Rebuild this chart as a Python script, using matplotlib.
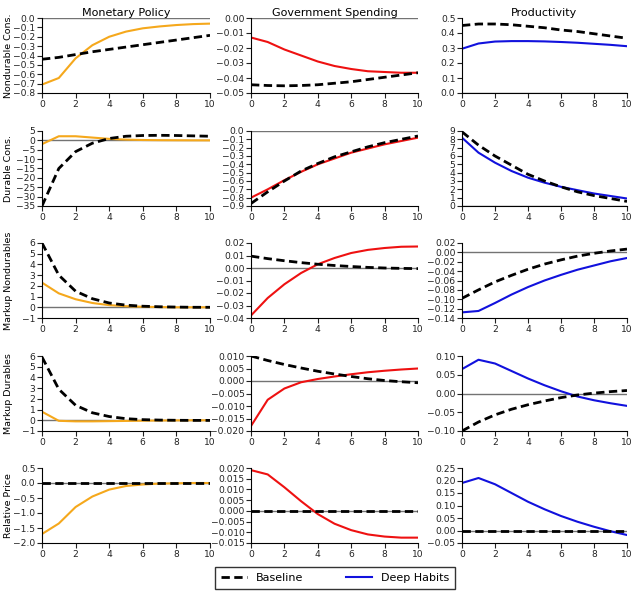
import numpy as np
import matplotlib.pyplot as plt

periods = np.arange(11)

shocks = ["Monetary Policy", "Government Spending", "Productivity"]
variables = ["Nondurable Cons.", "Durable Cons.", "Markup Nondurables", "Markup Durables", "Relative Price"]
shock_colors = ["#f5a81c", "#ee1111", "#1111dd"]

# Nondurable consumption
nd_mp_base = [-0.44, -0.42, -0.39, -0.36, -0.335, -0.31, -0.285, -0.26, -0.235, -0.21, -0.185]
nd_mp_dh = [-0.71, -0.64, -0.43, -0.29, -0.20, -0.145, -0.11, -0.09, -0.075, -0.065, -0.06]
nd_gs_base = [-0.0445, -0.045, -0.0452, -0.045, -0.0445, -0.0435, -0.0425, -0.041, -0.0395, -0.038, -0.0365]
nd_gs_dh = [-0.013, -0.016, -0.021, -0.025, -0.029, -0.032, -0.034, -0.0355, -0.036, -0.0365, -0.0365]
nd_pr_base = [0.45, 0.46, 0.46, 0.455, 0.445, 0.435, 0.42, 0.41, 0.395, 0.38, 0.365]
nd_pr_dh = [0.295, 0.33, 0.343, 0.346, 0.346, 0.344, 0.340, 0.335, 0.328, 0.321, 0.312]

# Durable consumption
d_mp_base = [-35, -15, -6, -1.5, 1.0, 2.2, 2.6, 2.7, 2.6, 2.4, 2.2]
d_mp_dh = [-2, 2.2, 2.2, 1.5, 0.8, 0.4, 0.2, 0.1, 0.05, 0.02, 0.0]
d_gs_base = [-0.87, -0.73, -0.60, -0.48, -0.39, -0.31, -0.25, -0.19, -0.14, -0.10, -0.06]
d_gs_dh = [-0.80, -0.70, -0.59, -0.49, -0.40, -0.33, -0.26, -0.21, -0.16, -0.12, -0.08]
d_pr_base = [8.9, 7.3, 6.0, 4.9, 3.8, 3.0, 2.3, 1.7, 1.25, 0.9, 0.55]
d_pr_dh = [8.2, 6.4, 5.2, 4.2, 3.4, 2.8, 2.3, 1.9, 1.5, 1.2, 0.9]

# Markup nondurables
mn_mp_base = [6.0, 3.0, 1.5, 0.8, 0.4, 0.2, 0.1, 0.05, 0.02, 0.0, 0.0]
mn_mp_dh = [2.3, 1.3, 0.75, 0.4, 0.2, 0.1, 0.05, 0.02, 0.0, 0.0, 0.0]
mn_gs_base = [0.0095, 0.0075, 0.0058, 0.0043, 0.003, 0.002, 0.0012, 0.0005, 0.0, -0.0003, -0.0005]
mn_gs_dh = [-0.038, -0.024, -0.013, -0.004, 0.003, 0.008, 0.012, 0.0145, 0.016, 0.017, 0.0172]
mn_pr_base = [-0.098, -0.08, -0.063, -0.049, -0.036, -0.025, -0.016, -0.008, -0.002, 0.003, 0.007]
mn_pr_dh = [-0.128, -0.125, -0.108, -0.09, -0.074, -0.06, -0.048, -0.037, -0.028, -0.019, -0.012]

# Markup durables
md_mp_base = [5.9, 2.9, 1.4, 0.7, 0.35, 0.15, 0.06, 0.02, 0.0, -0.01, -0.01]
md_mp_dh = [0.8, -0.05, -0.1, -0.1, -0.08, -0.06, -0.04, -0.02, -0.01, 0.0, 0.0]
md_gs_base = [0.0100, 0.0082, 0.0066, 0.0052, 0.0039, 0.0028, 0.0018, 0.0009, 0.0002, -0.0003, -0.0007]
md_gs_dh = [-0.018, -0.0075, -0.003, -0.0005, 0.0008, 0.0018, 0.0027, 0.0035, 0.0041, 0.0046, 0.005]
md_pr_base = [-0.10, -0.076, -0.057, -0.042, -0.03, -0.02, -0.011, -0.004, 0.001, 0.005, 0.008]
md_pr_dh = [0.065, 0.09, 0.08, 0.06, 0.04, 0.022, 0.006, -0.008, -0.018, -0.026, -0.033]

# Relative price
rp_mp_base = [0.0] * 11
rp_mp_dh = [-1.7, -1.35, -0.8, -0.45, -0.22, -0.1, -0.05, -0.02, -0.01, 0.0, 0.0]
rp_gs_base = [0.0] * 11
rp_gs_dh = [0.019, 0.017, 0.011, 0.0045, -0.0015, -0.006, -0.009, -0.011, -0.012, -0.0125, -0.0125]
rp_pr_base = [0.0] * 11
rp_pr_dh = [0.19, 0.21, 0.185, 0.15, 0.115, 0.085, 0.058, 0.035, 0.015, -0.003, -0.018]

baseline = [[nd_mp_base, nd_gs_base, nd_pr_base],
            [d_mp_base, d_gs_base, d_pr_base],
            [mn_mp_base, mn_gs_base, mn_pr_base],
            [md_mp_base, md_gs_base, md_pr_base],
            [rp_mp_base, rp_gs_base, rp_pr_base]]
deep_habits = [[nd_mp_dh, nd_gs_dh, nd_pr_dh],
               [d_mp_dh, d_gs_dh, d_pr_dh],
               [mn_mp_dh, mn_gs_dh, mn_pr_dh],
               [md_mp_dh, md_gs_dh, md_pr_dh],
               [rp_mp_dh, rp_gs_dh, rp_pr_dh]]

# (ymin, ymax, step) per panel
y_ranges = [[(-0.8, 0.0, 0.1), (-0.05, 0.0, 0.01), (0.0, 0.5, 0.1)],
            [(-35, 5, 5), (-0.9, 0.0, 0.1), (0, 9, 1)],
            [(-1, 6, 1), (-0.04, 0.02, 0.01), (-0.14, 0.02, 0.02)],
            [(-1, 6, 1), (-0.02, 0.01, 0.005), (-0.10, 0.10, 0.05)],
            [(-2.0, 0.5, 0.5), (-0.015, 0.020, 0.005), (-0.05, 0.25, 0.05)]]
y_fmt = [["%.1f", "%.2f", "%.1f"],
         ["%d", "%.1f", "%d"],
         ["%d", "%.2f", "%.2f"],
         ["%d", "%.3f", "%.2f"],
         ["%.1f", "%.3f", "%.2f"]]

plt.rcParams['font.family'] = 'DejaVu Sans'

fig = plt.figure(figsize=(6.42, 6.05), dpi=100)
W, H = 642.0, 605.0
lefts = [42, 251, 462]
widths = [168, 167, 165]
tops = [18, 131, 243, 356, 468]
ax_h = 75
dash = (3, 1.6)


def fmt_tick(fmt, t):
    if abs(t) < 1e-12:
        return fmt % 0
    return (fmt % t).replace("-", "\u2212")


for r in range(5):
    for c in range(3):
        ax = fig.add_axes([lefts[c] / W, 1 - (tops[r] + ax_h) / H, widths[c] / W, ax_h / H])
        ax.axhline(0, color="0.45", lw=1.0, zorder=1)
        ax.plot(periods, baseline[r][c], color="k", ls="--", lw=2, dashes=dash, zorder=3)
        ax.plot(periods, deep_habits[r][c], color=shock_colors[c], lw=1.5, zorder=2)
        lo, hi, step = y_ranges[r][c]
        ax.set_ylim(lo, hi)
        ticks = np.arange(lo, hi + step / 2, step)
        ax.set_yticks(ticks)
        ax.set_yticklabels([fmt_tick(y_fmt[r][c], t) for t in ticks])
        ax.set_xlim(0, 10)
        ax.set_xticks(range(0, 11, 2))
        ax.spines["top"].set_visible(False)
        ax.spines["right"].set_visible(False)
        ax.tick_params(direction="out", length=3.5, labelsize=6.6, colors="#222222", pad=1.2)
        if r == 0:
            ax.set_title(shocks[c], fontsize=8, pad=1.5)
        if c == 0:
            ax.set_ylabel(variables[r], fontsize=6.8)
            ax.yaxis.set_label_coords(-0.175, 0.5)

handles = [plt.Line2D([], [], color="k", ls="--", lw=2, dashes=dash),
           plt.Line2D([], [], color="#1111dd", lw=1.5)]
fig.legend(handles, ["Baseline", "Deep Habits"], loc="center", bbox_to_anchor=(335 / W, 1 - 578 / H),
           ncol=2, fontsize=8, frameon=True, fancybox=False, edgecolor="k", columnspacing=3.8,
           handlelength=2.4, borderpad=0.5)

fig.savefig("out.png", dpi=100)
